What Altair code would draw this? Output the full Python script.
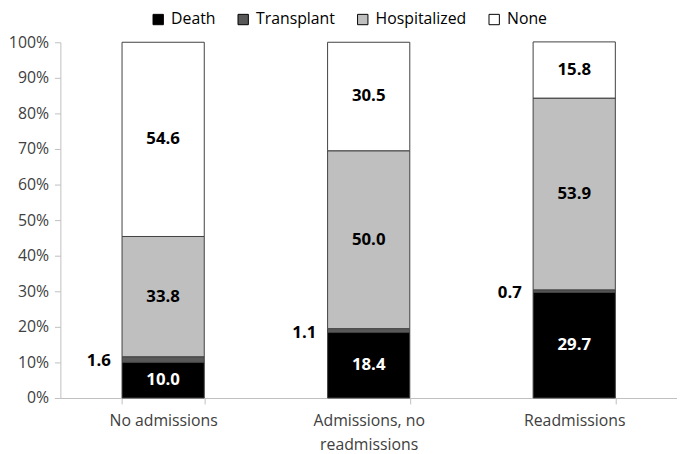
import altair as alt
import pandas as pd

groups = ["No admissions", "Admissions, no readmissions", "Readmissions"]
outcomes = ["Death", "Transplant", "Hospitalized", "None"]
death = [10.0, 18.4, 29.7]
transplant = [1.6, 1.1, 0.7]
hospitalized = [33.8, 50.0, 53.9]
none_ = [54.6, 30.5, 15.8]
colors = ["#000000", "#595959", "#bfbfbf", "#ffffff"]

series = {"Death": death, "Transplant": transplant, "Hospitalized": hospitalized, "None": none_}
rows = []
for gi, g in enumerate(groups):
    for oi, o in enumerate(outcomes):
        rows.append({"group": g, "outcome": o, "idx": oi, "value": series[o][gi]})
df = pd.DataFrame(rows)

FONT = "Open Sans"
TXT = "#404040"

base = alt.Chart(df).transform_stack(
    stack="value", groupby=["group"], as_=["y0", "y1"], sort=[{"field": "idx", "order": "ascending"}]
).transform_calculate(mid="(datum.y0 + datum.y1) / 2")

xaxis = alt.Axis(
    title=None,
    labelAngle=0,
    labelFontSize=16,
    labelFont=FONT,
    labelColor=TXT,
    labelPadding=9,
    labelLineHeight=24,
    labelExpr="datum.label == 'Admissions, no readmissions' ? ['Admissions, no', 'readmissions'] : datum.label",
    domainColor="#bfbfbf",
    tickColor="#bfbfbf",
    tickSize=6,
    tickBand="extent",
    grid=False,
)
xscale = alt.Scale(paddingInner=0.6, paddingOuter=0.3)

yaxis = alt.Axis(
    title=None,
    values=list(range(0, 101, 10)),
    labelExpr="datum.value + '%'",
    labelFontSize=16,
    labelFont=FONT,
    labelColor=TXT,
    labelPadding=6,
    labelOverlap=False,
    domainColor="#bfbfbf",
    tickColor="#bfbfbf",
    tickSize=6,
    grid=False,
)
yscale = alt.Scale(domain=[0, 100], nice=False)

bars = base.mark_bar(stroke="#404040", strokeWidth=1).encode(
    x=alt.X("group:N", sort=groups, scale=xscale, axis=xaxis),
    y=alt.Y("y0:Q", scale=yscale, axis=yaxis),
    y2="y1:Q",
    color=alt.Color(
        "outcome:N",
        sort=outcomes,
        scale=alt.Scale(domain=outcomes, range=colors),
        legend=alt.Legend(
            title=None,
            orient="none",
            direction="horizontal",
            legendX=91,
            legendY=-31,
            padding=0,
            symbolType="square",
            symbolSize=110,
            symbolStrokeColor="#000000",
            symbolStrokeWidth=1,
            labelFontSize=16,
            labelFont=FONT,
            labelColor="#000000",
            columnPadding=20,
            labelOffset=5,
        ),
    ),
    order=alt.Order("idx:Q", sort="ascending"),
)

inner = base.transform_filter("datum.outcome != 'Transplant'").mark_text(
    fontSize=17, fontWeight="bold", font=FONT, baseline="middle"
).encode(
    x=alt.X("group:N", sort=groups, scale=xscale, axis=xaxis),
    y=alt.Y("mid:Q", scale=yscale, axis=yaxis),
    text=alt.Text("value:Q", format=".1f"),
    color=alt.condition("datum.outcome == 'Death'", alt.value("#ffffff"), alt.value("#000000")),
)

outer = base.transform_filter("datum.outcome == 'Transplant'").mark_text(
    fontSize=17, fontWeight="bold", font=FONT, baseline="middle", align="right", dx=-53, dy=2
).encode(
    x=alt.X("group:N", sort=groups, scale=xscale, axis=xaxis),
    y=alt.Y("mid:Q", scale=yscale, axis=yaxis),
    text=alt.Text("value:Q", format=".1f"),
    color=alt.value("#000000"),
)

chart = alt.layer(bars, inner, outer).properties(
    width=624,
    height=360,
    autosize=alt.AutoSizeParams(type="none"),
    padding={"left": 53, "top": 32, "right": 0, "bottom": 54},
).configure(font=FONT).configure_view(stroke=None)

chart.save("out.html", embed_options={"renderer": "svg", "actions": False})
